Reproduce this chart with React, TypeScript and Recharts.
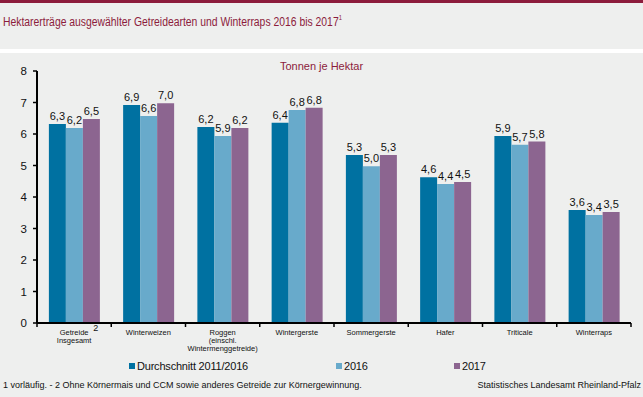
import { Bar, BarChart, LabelList, XAxis, YAxis } from "recharts"

const categories = [
  "Getreide|Insgesamt",
  "Winterweizen",
  "Roggen|(einschl.|Wintermenggetreide)",
  "Wintergerste",
  "Sommergerste",
  "Hafer",
  "Triticale",
  "Winterraps",
]
const avg = [6.32, 6.92, 6.22, 6.36, 5.33, 4.63, 5.94, 3.59]
const y2016 = [6.19, 6.57, 5.94, 6.76, 4.98, 4.41, 5.66, 3.43]
const y2017 = [6.48, 6.98, 6.19, 6.83, 5.33, 4.48, 5.76, 3.52]
const yTicks = [0, 1, 2, 3, 4, 5, 6, 7, 8]

const series = [
  { key: "avg", name: "Durchschnitt 2011/2016", color: "#0071a1" },
  { key: "y2016", name: "2016", color: "#68aacb" },
  { key: "y2017", name: "2017", color: "#8c6590" },
]

const data = categories.map((c, i) => ({ cat: c, avg: avg[i], y2016: y2016[i], y2017: y2017[i] }))

const font = "Arial, 'Liberation Sans', sans-serif"
const red = "#8c1c3c"

const fmt = (v: any) => Number(v).toFixed(1).replace(".", ",")

function CatTick(props: any) {
  const { x, y, payload, index, width, visibleTicksCount } = props
  const half = width / visibleTicksCount / 2
  const lines = String(payload.value).split("|")
  return (
    <g>
      <line x1={x - half} x2={x - half} y1={y} y2={y + 4} stroke="#000" strokeWidth={1.5} />
      {index === visibleTicksCount - 1 && (
        <line x1={x + half} x2={x + half} y1={y} y2={y + 4} stroke="#000" strokeWidth={1.5} />
      )}
      {lines.map((l: string, i: number) => (
        <text key={i} x={x} y={y + 12 + i * 8} textAnchor="middle" fontSize={7.5} fill="#111" fontFamily={font}>
          {l}
        </text>
      ))}
      {index === 0 && (
        <text x={x + 19} y={y + 8} fontSize={9} fill="#111" fontFamily={font}>2</text>
      )}
    </g>
  )
}

export default function App() {
  const widths = [207, 118, 80]
  return (
    <div style={{ position: "fixed", left: 0, top: 0, width: 643, height: 397, background: "#eeefee", overflow: "hidden", fontFamily: font }}>
      <div style={{ position: "absolute", left: 0, top: 0, width: 643, height: 3, background: red }} />
      <div style={{ position: "absolute", left: 0, top: 49, width: 643, height: 4, background: "#fff" }} />
      <div
        style={{
          position: "absolute",
          left: 3,
          top: 15,
          fontSize: 12.5,
          color: red,
          whiteSpace: "nowrap",
          transform: "scaleX(0.83)",
          transformOrigin: "left top",
        }}
      >
        Hektarerträge ausgewählter Getreidearten und Winterraps 2016 bis 2017
        <sup style={{ fontSize: 7, verticalAlign: "top", position: "relative", top: -1 }}>1</sup>
      </div>
      <div style={{ position: "absolute", left: 0, width: 643, top: 60, textAlign: "center", fontSize: 11, color: red }}>
        Tonnen je Hektar
      </div>
      <div style={{ position: "absolute", left: 0, top: 0 }}>
        <BarChart
          width={643}
          height={397}
          data={data}
          margin={{ top: 71, right: 12, left: 7, bottom: 0 }}
          barCategoryGap="16%"
          barGap={0}
        >
          <XAxis
            dataKey="cat"
            height={74}
            interval={0}
            tickLine={false}
            tickSize={0}
            tickMargin={0}
            axisLine={{ stroke: "#000", strokeWidth: 2 }}
            tick={<CatTick />}
          />
          <YAxis
            width={30}
            domain={[0, 8]}
            ticks={yTicks}
            tickSize={4}
            tickMargin={6}
            axisLine={{ stroke: "#000", strokeWidth: 2 }}
            tickLine={{ stroke: "#000", strokeWidth: 1.5 }}
            tick={{ fill: "#111", fontSize: 11.5, fontFamily: font }}
          />
          {series.map((s) => (
            <Bar key={s.key} dataKey={s.key} name={s.name} fill={s.color} isAnimationActive={false}>
              <LabelList dataKey={s.key} position="top" offset={4} formatter={fmt} fill="#111" fontSize={11} fontFamily={font} />
            </Bar>
          ))}
        </BarChart>
      </div>
      <div style={{ position: "absolute", left: 129, top: 360, display: "flex", fontSize: 11, letterSpacing: -0.2, color: "#111" }}>
        {series.map((s, i) => (
          <div key={s.key} style={{ width: widths[i], display: "flex", alignItems: "center" }}>
            <span style={{ width: 6, height: 6, background: s.color, marginRight: 2, display: "inline-block" }} />
            <span>{s.name}</span>
          </div>
        ))}
      </div>
      <div style={{ position: "absolute", left: 3, top: 380, fontSize: 9, color: "#111", whiteSpace: "nowrap" }}>
        1 vorläufig. - 2 Ohne Körnermais und CCM sowie anderes Getreide zur Körnergewinnung.
      </div>
      <div style={{ position: "absolute", right: 2, top: 380, fontSize: 9, color: "#111", whiteSpace: "nowrap" }}>
        Statistisches Landesamt Rheinland-Pfalz
      </div>
    </div>
  )
}
